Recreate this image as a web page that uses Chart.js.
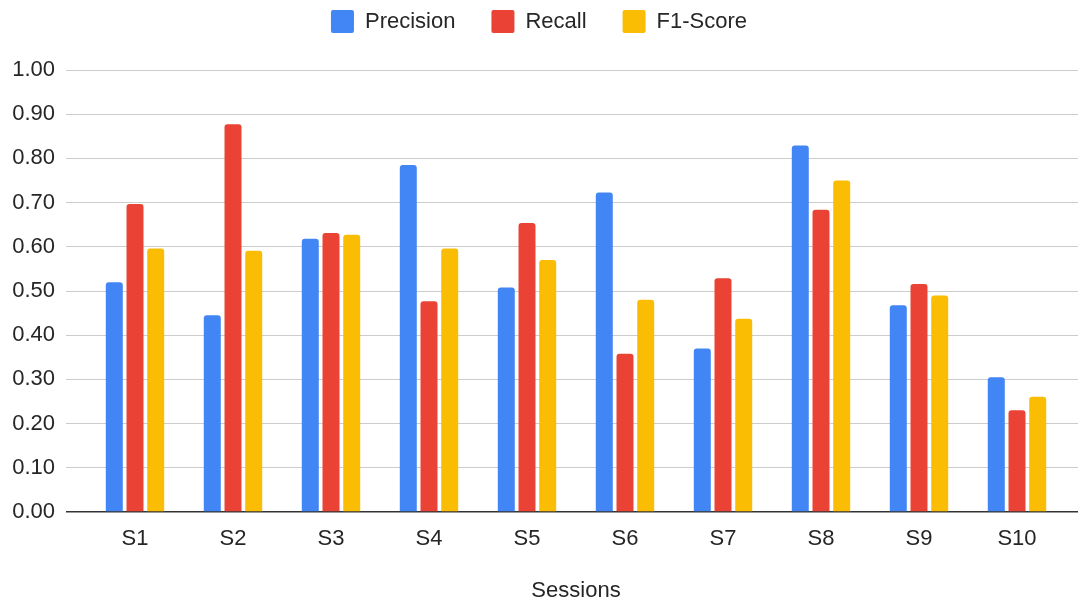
<!DOCTYPE html>
<html>
<head>
<meta charset="utf-8">
<script src="https://cdn.jsdelivr.net/npm/chart.js@4/dist/chart.umd.min.js"></script>
<style>
  html, body { margin: 0; padding: 0; background: #fff; }
  #wrap { width: 1078px; height: 604px; }
</style>
</head>
<body>
<div id="wrap"><canvas id="c" width="1078" height="604"></canvas></div>
<script>
// Session labels along the x axis
const sessions = ['S1', 'S2', 'S3', 'S4', 'S5', 'S6', 'S7', 'S8', 'S9', 'S10'];

// Per-session scores
const precision = [0.52, 0.445, 0.618, 0.785, 0.508, 0.723, 0.370, 0.829, 0.468, 0.305];
const recall    = [0.697, 0.877, 0.631, 0.477, 0.654, 0.358, 0.529, 0.684, 0.516, 0.230];
const f1Score   = [0.596, 0.591, 0.627, 0.596, 0.570, 0.480, 0.437, 0.750, 0.490, 0.261];

const seriesNames = ['Precision', 'Recall', 'F1-Score'];
const xTitle = 'Sessions';

const FONT = '"Liberation Sans", Arial, sans-serif';
const TEXT = '#262626';
const GRID = '#cccccc';
const BASE = '#333333';

Chart.defaults.font.family = FONT;
Chart.defaults.font.size = 22;
Chart.defaults.color = TEXT;

const barStyle = {
  borderRadius: 3,
  borderSkipped: 'start',
  categoryPercentage: 0.634,
  barPercentage: 0.82
};

const gridColor = ctx => (ctx.tick && ctx.tick.value === 0 ? BASE : GRID);
const gridWidth = ctx => (ctx.tick && ctx.tick.value === 0 ? 1.5 : 1);

const LEGEND_GAP = 36;

new Chart(document.getElementById('c'), {
  type: 'bar',
  data: {
    labels: sessions,
    datasets: [
      Object.assign({ label: seriesNames[0], data: precision, backgroundColor: '#4285F4' }, barStyle),
      Object.assign({ label: seriesNames[1], data: recall,    backgroundColor: '#EA4335' }, barStyle),
      Object.assign({ label: seriesNames[2], data: f1Score,   backgroundColor: '#FBBC04' }, barStyle)
    ]
  },
  options: {
    responsive: false,
    animation: false,
    devicePixelRatio: 1,
    // the legend's item spacing also pads it vertically; pull it back up
    layout: { padding: { top: 10 - LEGEND_GAP, left: 0, right: 0, bottom: 0 } },
    plugins: {
      tooltip: { enabled: false },
      legend: {
        position: 'top',
        align: 'center',
        labels: {
          boxWidth: 23,
          boxHeight: 23,
          padding: LEGEND_GAP,
          color: TEXT,
          font: { size: 22, family: FONT },
          generateLabels(chart) {
            const items = Chart.defaults.plugins.legend.labels.generateLabels(chart);
            items.forEach(it => { it.lineWidth = 0; it.borderRadius = 2; });
            return items;
          }
        }
      }
    },
    scales: {
      x: {
        grid: { display: false },
        border: { display: false },
        ticks: { padding: 6, color: TEXT, font: { size: 22 } },
        title: {
          display: true,
          text: xTitle,
          color: TEXT,
          font: { size: 22 },
          padding: { top: 0, bottom: 0 }
        },
        afterFit(scale) { scale.height = 92; }
      },
      // empty band between the legend and the plot area
      xTop: {
        type: 'category',
        position: 'top',
        grid: { display: false },
        border: { display: false },
        ticks: { display: false },
        afterFit(scale) { scale.height = 27; }
      },
      y: {
        min: 0,
        max: 1,
        ticks: {
          stepSize: 0.1,
          padding: 11,
          color: TEXT,
          font: { size: 22 },
          callback: v => Number(v).toFixed(2)
        },
        border: { display: false },
        grid: { tickLength: 20, color: gridColor, lineWidth: gridWidth },
        afterFit(scale) { scale.width = 86; }
      },
      yRight: {
        position: 'right',
        min: 0,
        max: 1,
        ticks: { display: false, stepSize: 0.1 },
        border: { display: false },
        grid: { drawOnChartArea: false, tickLength: 12, color: gridColor, lineWidth: gridWidth },
        afterFit(scale) { scale.width = 12; }
      }
    }
  }
});
</script>
</body>
</html>
